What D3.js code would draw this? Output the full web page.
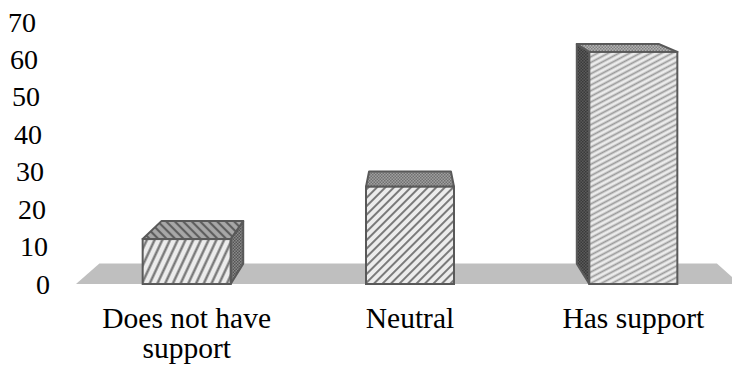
<!DOCTYPE html>
<html>
<head>
<meta charset="utf-8">
<script src="https://d3js.org/d3.v7.min.js"></script>
<style>
  body { margin: 0; background: #fff; }
</style>
</head>
<body>
<div id="chart"></div>
<script>
// data
var categories = ["Does not have support", "Neutral", "Has support"];
var labelLines = [["Does not have", "support"], ["Neutral"], ["Has support"]];
var values = [12, 26, 62];
var yTicks = [0, 10, 20, 30, 40, 50, 60, 70];

var width = 732, height = 369;
var font = "'Liberation Serif', 'Times New Roman', 'DejaVu Serif', serif";
var svg = d3.select("#chart").append("svg")
  .attr("width", width)
  .attr("height", height);

var x = d3.scalePoint().domain(categories).range([75, 745]).padding(0.5);
var y = d3.scaleLinear().domain([0, 70]).range([284, 22]);
// the value axis leans a little (perspective), labels drift right toward 0
var tickX = d3.scaleLinear().domain([0, 70]).range([50, 36]);
var barW = 88;

// fake perspective: point far above the middle of the chart
var vp = {x: 410, y: -97};
var kx = 0.07, ky = 0.0535;
function back(p) {
  return [p[0] + kx * (vp.x - p[0]), p[1] + ky * (vp.y - p[1])];
}
function pts(a) { return a.map(function(p) { return p.join(","); }).join(" "); }

// patterns
var defs = svg.append("defs");
function hatch(id, bg, fg, angle, gap, lw) {
  var p = defs.append("pattern")
    .attr("id", id)
    .attr("patternUnits", "userSpaceOnUse")
    .attr("width", gap).attr("height", gap)
    .attr("patternTransform", "rotate(" + angle + ")");
  p.append("rect").attr("width", gap).attr("height", gap).attr("fill", bg);
  p.append("line").attr("x1", gap / 2).attr("x2", gap / 2)
    .attr("y1", 0).attr("y2", gap)
    .attr("stroke", fg).attr("stroke-width", lw);
}
function dots(id, bg, fg) {
  var p = defs.append("pattern")
    .attr("id", id)
    .attr("patternUnits", "userSpaceOnUse")
    .attr("width", 3).attr("height", 3);
  p.append("rect").attr("width", 3).attr("height", 3).attr("fill", bg);
  p.append("rect").attr("width", 1.5).attr("height", 1.5).attr("fill", fg);
  p.append("rect").attr("x", 1.5).attr("y", 1.5).attr("width", 1.5).attr("height", 1.5).attr("fill", fg);
}
hatch("front0", "#ececec", "#6e6e6e", 25, 7, 2.2);
hatch("front1", "#ececec", "#7a7a7a", 45, 6, 2);
hatch("front2", "#ececec", "#9a9a9a", 62, 5, 1.8);
hatch("top0", "#a8a8a8", "#5e5e5e", -45, 6, 2.2);
dots("top1", "#a0a0a0", "#707070");
dots("top2", "#b4b4b4", "#808080");
dots("side0", "#8a8a8a", "#555555");
dots("side1", "#8a8a8a", "#555555");
dots("side2", "#5a5a5a", "#3a3a3a");

// floor
var fl = [[76, y(0)], [740, y(0)]];
svg.append("polygon")
  .attr("points", pts([fl[0], fl[1], back(fl[1]), back(fl[0])]))
  .attr("fill", "#bfbfbf");

// y tick labels
svg.selectAll(".ytick")
  .data(yTicks)
  .enter().append("text")
  .attr("class", "ytick")
  .attr("x", function(d) { return tickX(d); })
  .attr("y", function(d) { return y(d); })
  .attr("dy", "0.34em")
  .attr("text-anchor", "end")
  .attr("font-family", font)
  .attr("font-size", 28)
  .text(function(d) { return d; });

// bars
var stroke = "#595959";
categories.forEach(function(c, i) {
  var x0 = x(c) - barW / 2, x1 = x(c) + barW / 2;
  var yt = y(values[i]), yb = y(0);
  var ftl = [x0, yt], ftr = [x1, yt], fbl = [x0, yb], fbr = [x1, yb];
  var g = svg.append("g");

  var side = null;
  if (x1 < vp.x) side = [ftr, back(ftr), back(fbr), fbr];
  else if (x0 > vp.x) side = [ftl, back(ftl), back(fbl), fbl];
  if (side) {
    g.append("polygon").attr("points", pts(side))
      .attr("fill", "url(#side" + i + ")")
      .attr("stroke", stroke).attr("stroke-width", 2).attr("stroke-linejoin", "round");
  }
  g.append("polygon").attr("points", pts([ftl, ftr, back(ftr), back(ftl)]))
    .attr("fill", "url(#top" + i + ")")
    .attr("stroke", stroke).attr("stroke-width", 2).attr("stroke-linejoin", "round");
  g.append("rect")
    .attr("x", x0).attr("y", yt)
    .attr("width", barW).attr("height", yb - yt)
    .attr("fill", "url(#front" + i + ")")
    .attr("stroke", stroke).attr("stroke-width", 2);
});

// category labels
var lab = svg.selectAll(".xlab")
  .data(categories)
  .enter().append("text")
  .attr("class", "xlab")
  .attr("text-anchor", "middle")
  .attr("font-family", font)
  .attr("font-size", 29.5);
lab.each(function(c, i) {
  d3.select(this).selectAll("tspan")
    .data(labelLines[i])
    .enter().append("tspan")
    .attr("x", x(c))
    .attr("y", function(d, j) { return 328 + j * 30; })
    .text(function(d) { return d; });
});
</script>
</body>
</html>
